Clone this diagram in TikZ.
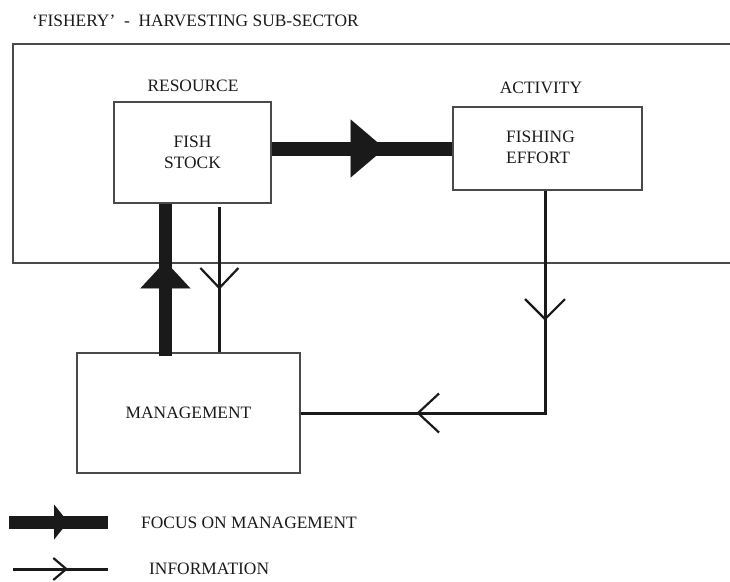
\documentclass[tikz,border=0pt]{standalone}
\usepackage{fontspec}
\setmainfont{Liberation Serif}
\usetikzlibrary{arrows.meta,decorations.markings}
\definecolor{ink}{HTML}{1A1A1A}
\definecolor{rim}{HTML}{4A4A4A}
\tikzset{
  lbl/.style={inner sep=0pt, text=ink, font=\fontsize{17.4}{20.5}\selectfont},
  box/.style={draw=rim, line width=1.2pt, inner sep=0pt},
  frame/.style={draw=rim, line width=1.4pt},
  focus/.style={draw=ink, line width=#1},
  info/.style={draw=ink, line width=3pt},
  % filled triangle head placed along a thick "focus" bar
  focustip/.style n args={3}{postaction={decorate, decoration={markings,
      mark=at position #1 with {\arrow[ink]{Triangle[length=#2,width=#3,line width=0.01pt]}}}}},
  % open V head placed along a thin "information" line
  infotip/.style n args={3}{postaction={decorate, decoration={markings,
      mark=at position #1 with {\arrow[ink]{Straight Barb[length=#2,width=#3,line width=2.2pt]}}}}},
}
\begin{document}
\begin{tikzpicture}[x=1pt,y=-1pt]
  \useasboundingbox (0,0) rectangle (730,581);

  % heading
  \node[lbl, anchor=west] (title) at (32,21) {‘FISHERY’\ \ -\ \ HARVESTING SUB-SECTOR};

  % sub-sector frame, open on the right
  \draw[frame] (730,44) -| (13,263) -- (730,263);

  % resource and activity
  \node[lbl] (resource) at (193,86) {RESOURCE};
  \node[box, lbl, align=center, minimum width=157pt, minimum height=101pt] (stock) at (192.5,152.5) {FISH\\STOCK};
  \node[lbl] (activity) at (541,88) {ACTIVITY};
  \node[box, minimum width=189pt, minimum height=83pt] (effort) at (547.5,148.5) {};
  \node[lbl, align=left, anchor=west] (efforttxt) at (506,147.5) {FISHING\\EFFORT};

  % management
  \node[box, lbl, minimum width=223pt, minimum height=120pt] (mgmt) at (188.5,413) {MANAGEMENT};

  % focus on management
  \draw[focus=14pt, focustip={113pt}{34pt}{58pt}] (stock.east |- effort.west) -- (effort.west);
  \draw[focus=13pt, focustip={95pt}{27pt}{50pt}] ([xshift=89pt,yshift=-4pt]mgmt.north west) -- ([xshift=52pt]stock.south west);

  % information flows
  \draw[info, infotip={83pt}{20pt}{38pt}] ([xshift=106pt,yshift=-3pt]stock.south west) -- ([xshift=143pt]mgmt.north west);
  \draw[info, infotip={130pt}{20pt}{40pt}, infotip={351pt}{21pt}{39pt}] ([xshift=-2.5pt]effort.south) |- (mgmt.east);

  % key
  \coordinate (fa) at (9,522);
  \coordinate (fb) at (108,522);
  \draw[focus=13pt, focustip={59pt}{14pt}{35pt}] (fa) -- (fb);
  \node[lbl, anchor=west] (focuskey) at (141,523) {FOCUS ON MANAGEMENT};
  \coordinate (ia) at (13,569);
  \coordinate (ib) at (108,569);
  \draw[info, infotip={55pt}{13pt}{22pt}] (ia) -- (ib);
  \node[lbl, anchor=west] (infokey) at (149,569) {INFORMATION};
\end{tikzpicture}
\end{document}
